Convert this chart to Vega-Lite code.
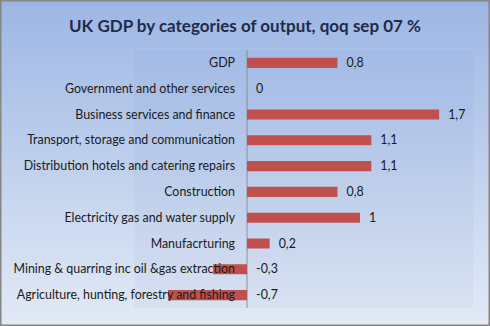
{
  "$schema": "https://vega.github.io/schema/vega-lite/v6.json",
  "width": 490,
  "height": 326,
  "autosize": {"type": "none"},
  "padding": 0,
  "background": "#c0d0ee",
  "config": {
    "view": {
      "fill": {"gradient": "linear", "x1": 0, "y1": 0, "x2": 0, "y2": 1,
        "stops": [{"offset": 0, "color": "#9cb6e4"}, {"offset": 1, "color": "#e3eaf6"}]},
      "stroke": "#868686",
      "strokeWidth": 3
    }
  },
  "title": {
    "text": "UK GDP by categories of output, qoq sep 07 %",
    "font": "Lato",
    "fontSize": 17,
    "fontWeight": "bold",
    "color": "#1f2b47",
    "anchor": "middle",
    "baseline": "alphabetic",
    "offset": -49
  },
  "data": {
    "values": [
      {"category": "GDP", "value": 0.8, "label": "0,8"},
      {"category": "Government and other services", "value": 0, "label": "0"},
      {"category": "Business services and finance", "value": 1.7, "label": "1,7"},
      {"category": "Transport, storage and communication", "value": 1.1, "label": "1,1"},
      {"category": "Distribution hotels and catering repairs", "value": 1.1, "label": "1,1"},
      {"category": "Construction", "value": 0.8, "label": "0,8"},
      {"category": "Electricity gas and water supply", "value": 1, "label": "1"},
      {"category": "Manufacrturing", "value": 0.2, "label": "0,2"},
      {"category": "Mining & quarring inc oil &gas extraction", "value": -0.3, "label": "-0,3"},
      {"category": "Agriculture, hunting, forestry and fishing", "value": -0.7, "label": "-0,7"}
    ]
  },
  "transform": [{"calculate": "max(datum.value, 0)", "as": "labelpos"}],
  "encoding": {
    "y": {
      "field": "category",
      "type": "nominal",
      "sort": null,
      "axis": null,
      "scale": {"paddingInner": 0, "paddingOuter": 0, "range": [50, 308]}
    }
  },
  "layer": [
    {
      "mark": {"type": "rect", "color": "#4f74c0", "opacity": 0.05},
      "encoding": {
        "x": {"datum": -1, "type": "quantitative", "axis": null,
          "scale": {"domain": [-2.186, 2.15], "nice": false, "zero": false}},
        "x2": {"datum": 2}
      }
    },
    {
      "mark": {"type": "tick", "orient": "vertical", "color": "#868686", "size": 26, "thickness": 1.2},
      "encoding": {
        "x": {"datum": 0, "type": "quantitative"}
      }
    },
    {
      "mark": {"type": "bar", "color": "#c0504d", "height": {"band": 0.39}},
      "encoding": {
        "x": {"field": "value", "type": "quantitative"}
      }
    },
    {
      "mark": {"type": "text", "align": "right", "baseline": "middle", "dx": -12, "font": "Lato", "fontSize": 12.4, "color": "#1a1a1a"},
      "encoding": {
        "x": {"datum": 0, "type": "quantitative"},
        "text": {"field": "category"}
      }
    },
    {
      "mark": {"type": "text", "align": "left", "baseline": "middle", "dx": 9, "font": "Lato", "fontSize": 12.4, "color": "#1a1a1a"},
      "encoding": {
        "x": {"field": "labelpos", "type": "quantitative"},
        "text": {"field": "label"}
      }
    }
  ]
}
